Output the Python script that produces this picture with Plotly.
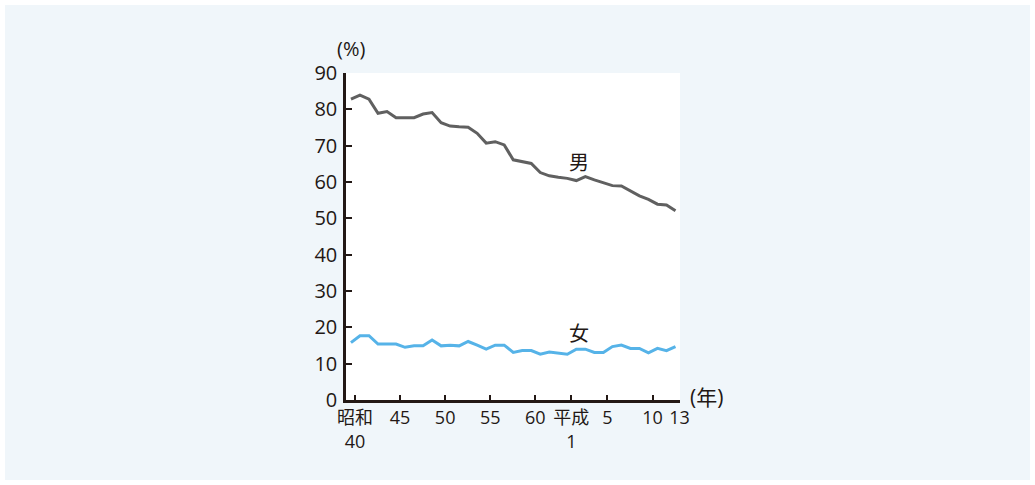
import plotly.graph_objects as go

years = list(range(1965, 2002))
male = [82.8, 83.9, 82.8, 78.9, 79.4, 77.7, 77.7, 77.7, 78.7, 79.1,
        76.3, 75.4, 75.2, 75.1, 73.4, 70.7, 71.1, 70.2, 66.1, 65.7,
        65.1, 62.6, 61.7, 61.3, 61.0, 60.4, 61.5, 60.6, 59.9, 59.0,
        58.9, 57.6, 56.2, 55.2, 53.9, 53.7, 52.1]
female = [15.8, 17.7, 17.7, 15.4, 15.4, 15.4, 14.5, 14.9, 14.9, 16.5,
          14.9, 15.1, 14.9, 16.1, 15.1, 14.0, 15.1, 15.1, 13.1, 13.6,
          13.6, 12.6, 13.2, 12.8, 12.6, 14.0, 14.0, 13.1, 13.1, 14.7,
          15.1, 14.2, 14.2, 13.0, 14.2, 13.6, 14.7]
tick_years = [1965, 1970, 1975, 1980, 1985, 1989, 1993, 1998, 2001]
tick_text = ["昭和<br>40", "45", "50", "55", "60", "平成<br>1", "5", "10", "13"]
y_ticks = [0, 10, 20, 30, 40, 50, 60, 70, 80, 90]

TICK_SHIFT = 0.45
FONT = "Open Sans, Noto Sans CJK JP"
INK = "#231815"
BG = "#f0f6fa"

fig = go.Figure()
fig.add_trace(go.Scatter(x=years, y=male, mode="lines", hoverinfo="skip",
                         line=dict(color="#606060", width=3), showlegend=False))
fig.add_trace(go.Scatter(x=years, y=female, mode="lines", hoverinfo="skip",
                         line=dict(color="#56b3e8", width=3), showlegend=False))

L, R, T, B = 346, 355, 73, 85
W, H = 1035, 485
pw, ph = W - L - R, H - T - B

def px(x):
    return (x - L) / pw

def py(y):
    return (H - B - y) / ph

fig.update_layout(
    width=W, height=H,
    margin=dict(l=L, r=R, t=T, b=B),
    paper_bgcolor="white", plot_bgcolor="white",
    font=dict(family=FONT, color=INK, size=18),
    shapes=[
        dict(type="rect", xref="paper", yref="paper", layer="below",
             x0=px(5), x1=px(1030), y0=py(480), y1=py(5),
             fillcolor=BG, line=dict(width=0)),
        dict(type="rect", xref="paper", yref="paper", layer="below",
             x0=0, x1=1, y0=0, y1=1, fillcolor="white", line=dict(width=0)),
    ],
    xaxis=dict(range=[1964.45, 2001.5], tickvals=[t + TICK_SHIFT for t in tick_years],
               ticktext=tick_text, ticks="inside", ticklen=5, tickwidth=2,
               tickcolor=INK, showline=True, linecolor=INK, linewidth=2.5,
               showgrid=False, zeroline=False, tickangle=0, fixedrange=True,
               tickfont=dict(size=18, family=FONT, color=INK)),
    yaxis=dict(range=[0, 90], tickvals=y_ticks, ticks="inside", ticklen=6,
               tickwidth=2, tickcolor=INK, showline=True, linecolor=INK,
               linewidth=2.5, showgrid=False, zeroline=False, fixedrange=True,
               ticklabelstandoff=2,
               tickfont=dict(size=20, family=FONT, color=INK)),
    annotations=[
        dict(text="(%)", xref="paper", yref="paper", x=px(351), y=py(48),
             xanchor="center", yanchor="middle",
             showarrow=False, font=dict(size=20)),
        dict(text="(年)", xref="paper", yref="paper", x=px(706), y=py(397),
             xanchor="center", yanchor="middle",
             showarrow=False, font=dict(size=21)),
        dict(text="男", x=1990.3, y=65.3, showarrow=False,
             xanchor="center", yanchor="middle", font=dict(size=20)),
        dict(text="女", x=1990.3, y=18.3, showarrow=False,
             xanchor="center", yanchor="middle", font=dict(size=20)),
    ],
)

fig.write_html("out.html", config={"displayModeBar": False},
               post_script="document.body.style.margin='0px';")
